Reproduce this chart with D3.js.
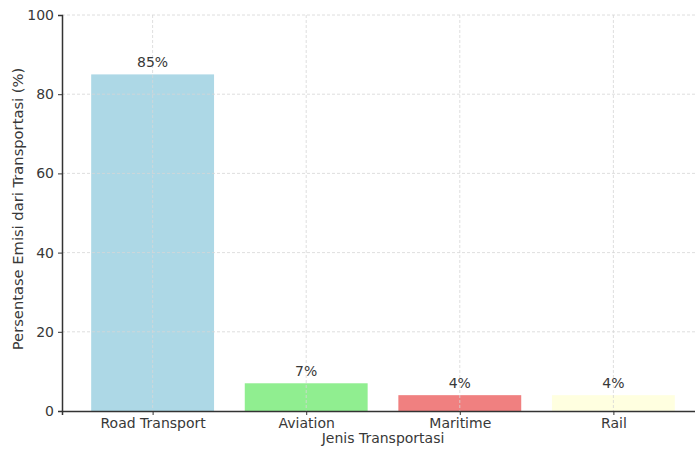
<!DOCTYPE html>
<html lang="id">
<head>
  <meta charset="UTF-8">
  <title>Persentase Emisi dari Transportasi</title>
  <script src="https://d3js.org/d3.v7.min.js"></script>
  <style>
    body { margin: 0; background: #fff; font-family: "DejaVu Sans", sans-serif; }
    svg text { fill: #383838; }
    .grid line { stroke: #d6d6d6; stroke-dasharray: 3,2; stroke-width: 0.8px; }
  </style>
</head>
<body>
  <svg width="695" height="450"></svg>

  <script>
    const categories = ["Road Transport", "Aviation", "Maritime", "Rail"];
    const values = [85, 7, 4, 4];
    const colors = ["#add8e6", "#90ee90", "#f08080", "#ffffe0"];
    const yTicks = [0, 20, 40, 60, 80, 100];

    const svg = d3.select("svg"),
          plotLeft = 62, plotRight = 704, plotTop = 15, plotBottom = 411;

    // matplotlib-style positions: bars at 0..n-1, width 0.8, 5% margins
    const x = d3.scaleLinear().domain([-0.59, categories.length - 1 + 0.59]).range([plotLeft, plotRight]);
    const y = d3.scaleLinear().domain([0, 100]).range([plotBottom, plotTop]);
    const bw = x(0.8) - x(0);

    svg.selectAll(".bar")
      .data(values)
      .enter().append("rect")
      .attr("class", "bar")
      .attr("x", (d, i) => x(i) - bw / 2)
      .attr("y", d => y(d))
      .attr("width", bw)
      .attr("height", d => y(0) - y(d))
      .attr("fill", (d, i) => colors[i]);

    // grid on top of bars
    const grid = svg.append("g").attr("class", "grid");
    grid.selectAll(".gy")
      .data(yTicks.slice(1))
      .enter().append("line")
      .attr("x1", plotLeft).attr("x2", plotRight)
      .attr("y1", d => y(d)).attr("y2", d => y(d));
    grid.selectAll(".gx")
      .data(categories)
      .enter().append("line")
      .attr("x1", (d, i) => x(i)).attr("x2", (d, i) => x(i))
      .attr("y1", plotTop).attr("y2", plotBottom);

    svg.selectAll(".val")
      .data(values)
      .enter().append("text")
      .attr("x", (d, i) => x(i))
      .attr("y", d => y(d) - 7)
      .attr("text-anchor", "middle")
      .style("font-size", "14px")
      .text(d => d + "%");

    const yAxis = svg.append("g")
      .attr("transform", `translate(${plotLeft},0)`)
      .call(d3.axisLeft(y).tickValues(yTicks).tickSize(4).tickPadding(4));
    const xAxis = svg.append("g")
      .attr("transform", `translate(0,${plotBottom})`)
      .call(d3.axisBottom(x).tickValues(d3.range(categories.length))
        .tickFormat(i => categories[i]).tickSize(4).tickPadding(3));

    [yAxis, xAxis].forEach(a => {
      a.select(".domain").attr("stroke", "#333").attr("stroke-width", 1.5);
      a.selectAll(".tick line").attr("stroke", "#333");
      a.selectAll(".tick text").style("font-size", "14px").attr("fill", "#383838")
        .style("font-family", "DejaVu Sans, sans-serif");
    });

    svg.append("text")
      .attr("x", (plotLeft + plotRight) / 2)
      .attr("y", 443)
      .attr("text-anchor", "middle")
      .style("font-size", "14px")
      .text("Jenis Transportasi");

    svg.append("text")
      .attr("transform", "translate(23,209) rotate(-90)")
      .attr("text-anchor", "middle")
      .style("font-size", "14.7px")
      .text("Persentase Emisi dari Transportasi (%)");
  </script>
</body>
</html>
